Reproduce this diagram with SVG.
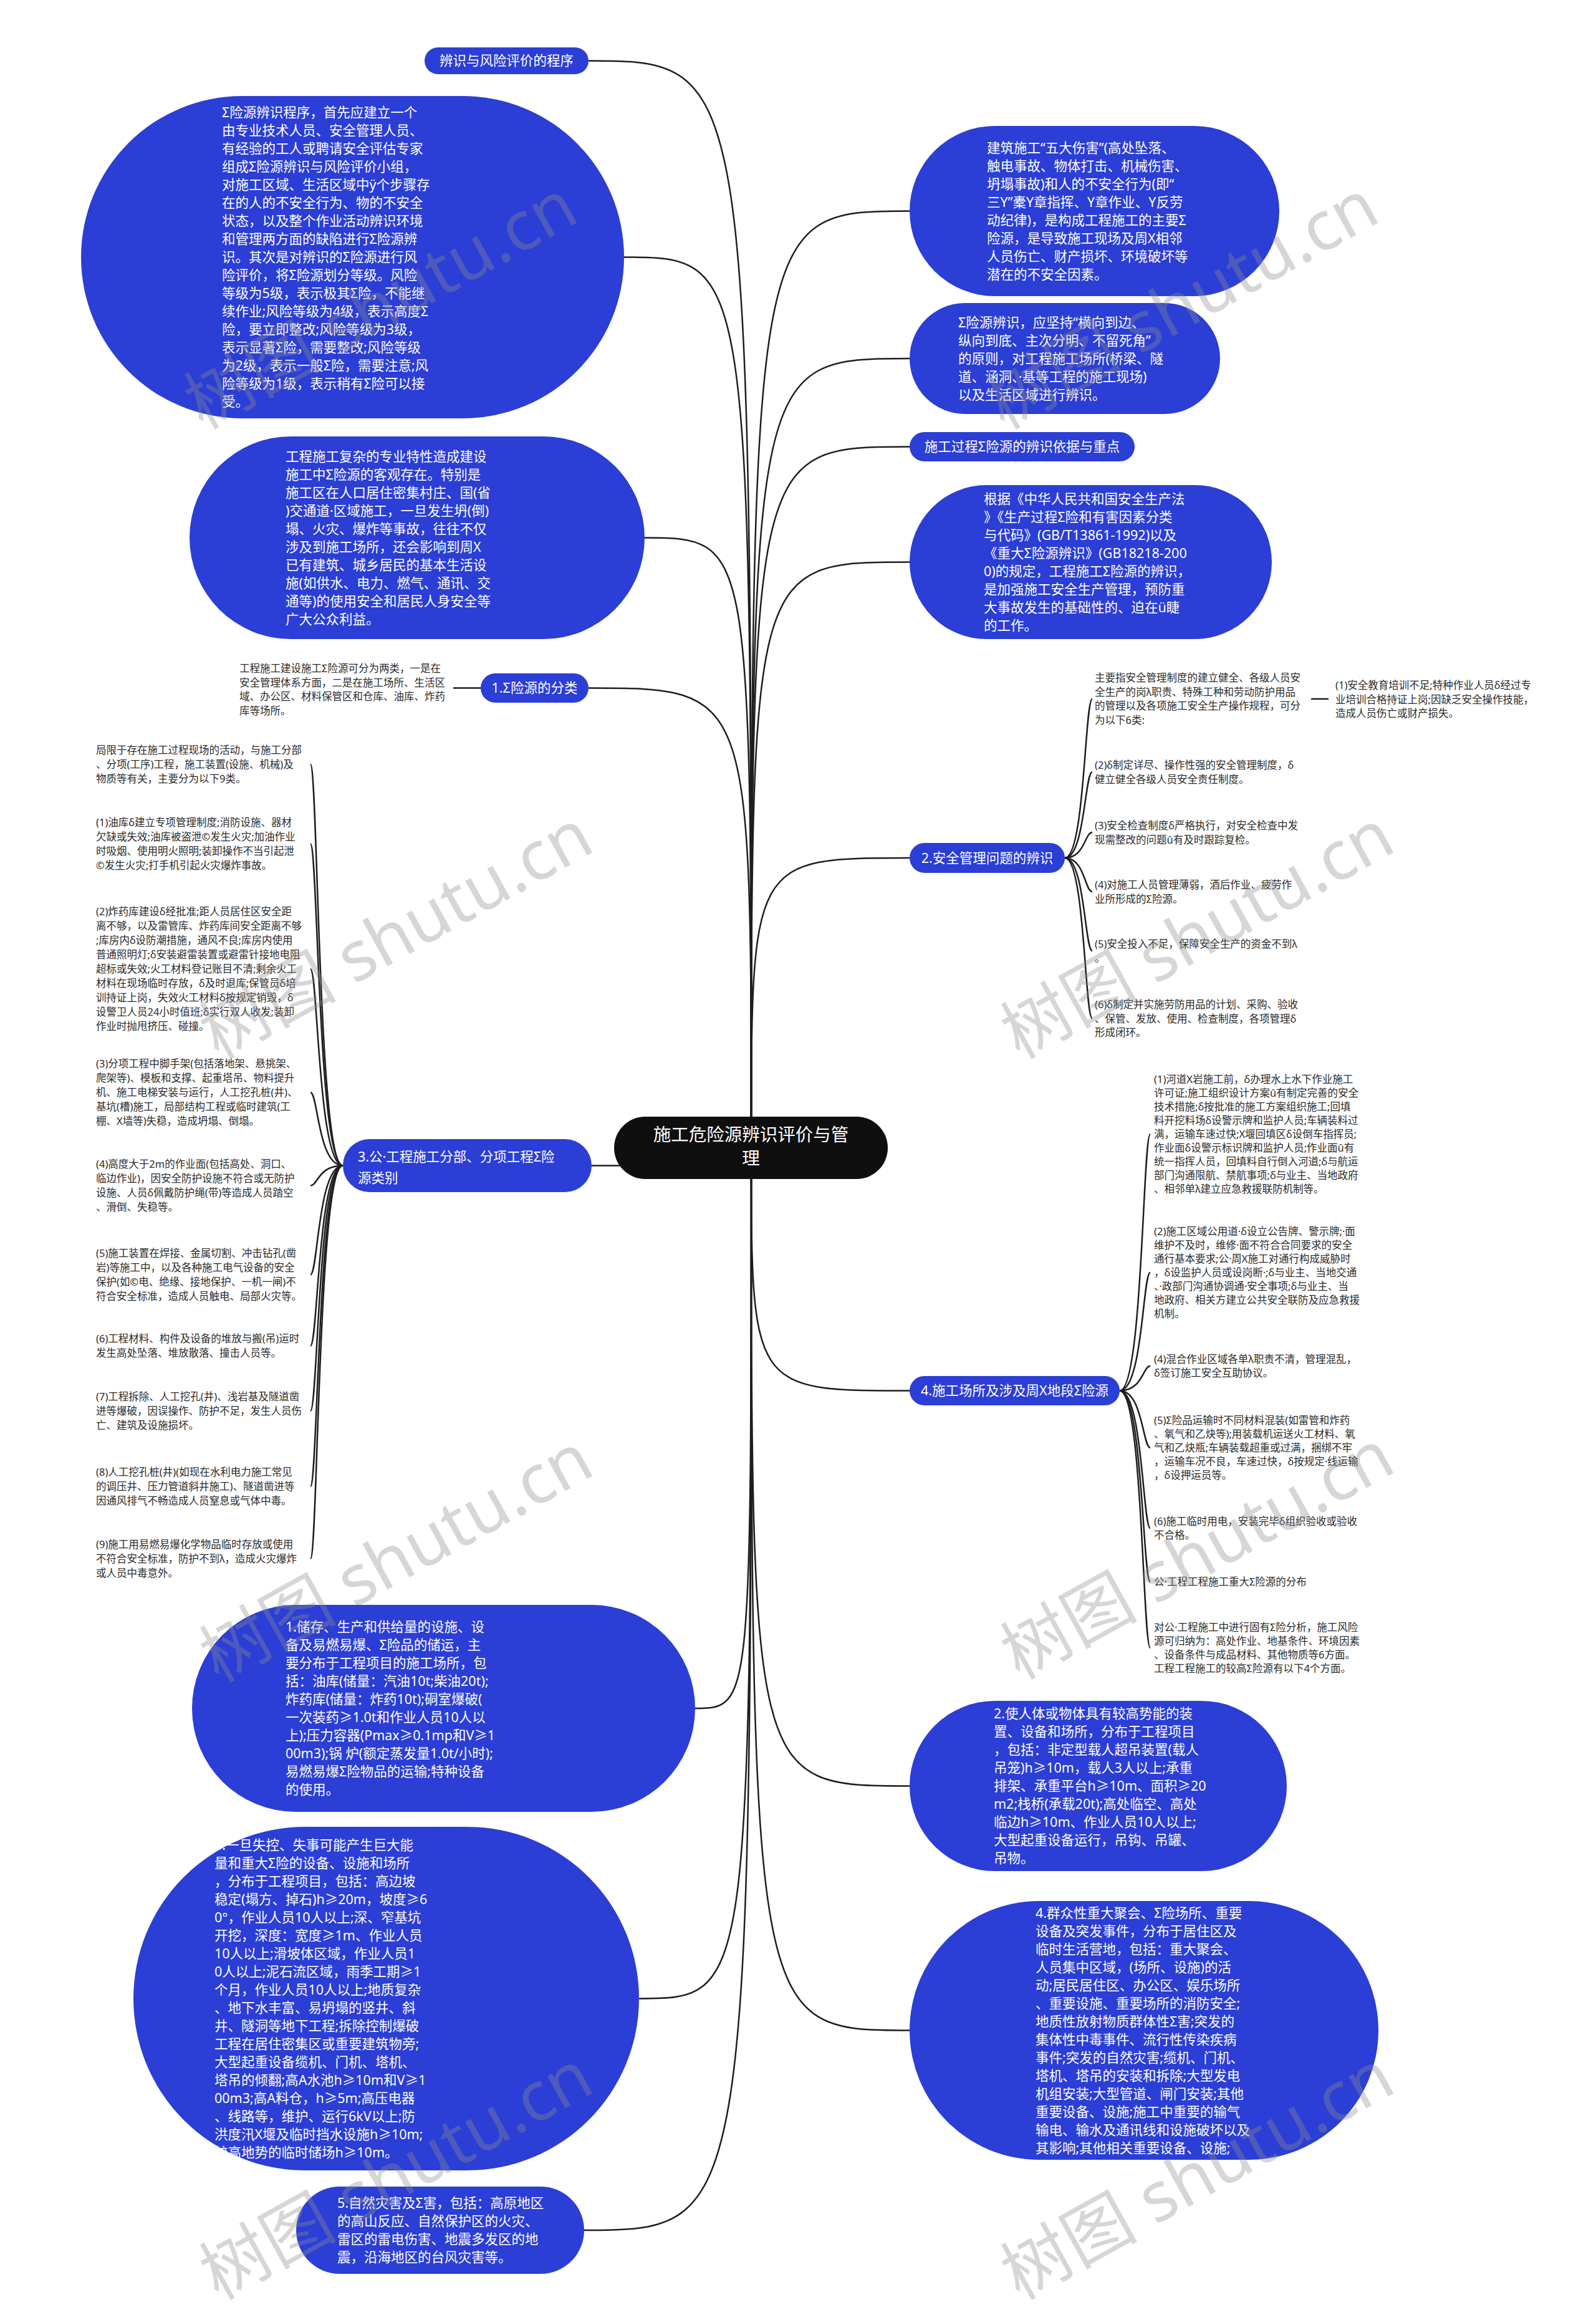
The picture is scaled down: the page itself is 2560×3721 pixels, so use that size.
<svg xmlns="http://www.w3.org/2000/svg" width="2560" height="3721" viewBox="0 0 2560 3721">
<style>
text{font-family:"Noto Sans","Noto Sans CJK SC",sans-serif;}
.nd{fill:#2B3ED6;}
.cn{fill:#0f0f0f;}
.w{fill:#fff;font-size:21.5px;}
.wc{fill:#fff;font-size:21.5px;text-anchor:middle;}
.c{fill:#fff;font-size:28.5px;text-anchor:middle;}
.s{fill:#2b2b2b;font-size:16.5px;}
.e{fill:none;stroke:#1e1e1e;stroke-width:2.5;}
.wm{fill:#8c8c8c;fill-opacity:0.36;font-family:"Liberation Serif","Noto Sans CJK SC",serif;font-size:110px;}
</style>
<rect width="2560" height="3721" fill="#fff"/>
<g id="connectors">
<path class="e" d="M1205 1841 C1205 338.5 1205 338.5 1459 338.5"/>
<path class="e" d="M1205 1841 C1205 575 1205 575 1459 575"/>
<path class="e" d="M1205 1841 C1205 716.5 1205 716.5 1459 716.5"/>
<path class="e" d="M1205 1841 C1205 901.5 1205 901.5 1459 901.5"/>
<path class="e" d="M1205 1841 C1205 1376 1205 1376 1459 1376"/>
<path class="e" d="M1205 1841 C1205 2230.5 1205 2230.5 1459 2230.5"/>
<path class="e" d="M1205 1841 C1205 2864.5 1205 2864.5 1459 2864.5"/>
<path class="e" d="M1205 1841 C1205 3256.5 1205 3256.5 1459 3256.5"/>
<path class="e" d="M1205 1841 C1205 97.5 1205 97.5 944 97.5"/>
<path class="e" d="M1205 1841 C1205 412.5 1205 412.5 1001 412.5"/>
<path class="e" d="M1205 1841 C1205 862.5 1205 862.5 1034 862.5"/>
<path class="e" d="M1205 1841 C1205 1103.5 1205 1103.5 944 1103.5"/>
<path class="e" d="M1205 1841 C1205 1869.5 1205 1869.5 949 1869.5"/>
<path class="e" d="M1205 1841 C1205 2740 1205 2740 1115 2740"/>
<path class="e" d="M1205 1841 C1205 3205.5 1205 3205.5 1025 3205.5"/>
<path class="e" d="M1205 1841 C1205 3577 1205 3577 937 3577"/>
<path class="e" d="M771 1103.5 L727 1103.5"/>
<path class="e" d="M550 1869.5 C510 1869.5 510 1226 498 1226"/>
<path class="e" d="M550 1869.5 C510 1869.5 510 1353.5 498 1353.5"/>
<path class="e" d="M550 1869.5 C510 1869.5 510 1554 498 1554"/>
<path class="e" d="M550 1869.5 C510 1869.5 510 1752 498 1752"/>
<path class="e" d="M550 1869.5 C510 1869.5 510 1901.5 498 1901.5"/>
<path class="e" d="M550 1869.5 C510 1869.5 510 2044.5 498 2044.5"/>
<path class="e" d="M550 1869.5 C510 1869.5 510 2158.5 498 2158.5"/>
<path class="e" d="M550 1869.5 C510 1869.5 510 2263 498 2263"/>
<path class="e" d="M550 1869.5 C510 1869.5 510 2384 498 2384"/>
<path class="e" d="M550 1869.5 C510 1869.5 510 2500 498 2500"/>
<path class="e" d="M1708 1376 C1740 1376 1740 1121 1752 1121"/>
<path class="e" d="M1708 1376 C1740 1376 1740 1238 1752 1238"/>
<path class="e" d="M1708 1376 C1740 1376 1740 1335 1752 1335"/>
<path class="e" d="M1708 1376 C1740 1376 1740 1430 1752 1430"/>
<path class="e" d="M1708 1376 C1740 1376 1740 1525 1752 1525"/>
<path class="e" d="M1708 1376 C1740 1376 1740 1633.5 1752 1633.5"/>
<path class="e" d="M2103 1121 L2131 1121"/>
<path class="e" d="M1796 2230.5 C1833 2230.5 1833 1819 1845 1819"/>
<path class="e" d="M1796 2230.5 C1833 2230.5 1833 2041 1845 2041"/>
<path class="e" d="M1796 2230.5 C1833 2230.5 1833 2191 1845 2191"/>
<path class="e" d="M1796 2230.5 C1833 2230.5 1833 2322 1845 2322"/>
<path class="e" d="M1796 2230.5 C1833 2230.5 1833 2451 1845 2451"/>
<path class="e" d="M1796 2230.5 C1833 2230.5 1833 2537 1845 2537"/>
<path class="e" d="M1796 2230.5 C1833 2230.5 1833 2643 1845 2643"/>
</g>
<g id="center">
<rect class="cn" x="985" y="1791" width="439" height="100" rx="50"/>
<text class="c" x="1204.5" y="1830"><tspan x="1204.5">施工危险源辨识评价与管</tspan><tspan x="1204.5" dy="38">理</tspan></text>
</g>
<g id="nA">
<rect class="nd" x="681" y="76" width="263" height="43" rx="21.5"/>
<text class="wc" x="812.5" y="105">辨识与风险评价的程序</text>
</g>
<g id="nB">
<rect class="nd" x="130" y="154" width="871" height="517" rx="258.5"/>
<text class="w" x="356" y="188"><tspan x="356">Σ险源辨识程序，首先应建立一个</tspan><tspan x="356" dy="29">由专业技术人员、安全管理人员、</tspan><tspan x="356" dy="29">有经验的工人或聘请安全评估专家</tspan><tspan x="356" dy="29">组成Σ险源辨识与风险评价小组，</tspan><tspan x="356" dy="29">对施工区域、生活区域中ÿ个步骤存</tspan><tspan x="356" dy="29">在的人的不安全行为、物的不安全</tspan><tspan x="356" dy="29">状态，以及整个作业活动辨识环境</tspan><tspan x="356" dy="29">和管理两方面的缺陷进行Σ险源辨</tspan><tspan x="356" dy="29">识。其次是对辨识的Σ险源进行风</tspan><tspan x="356" dy="29">险评价，将Σ险源划分等级。风险</tspan><tspan x="356" dy="29">等级为5级，表示极其Σ险，不能继</tspan><tspan x="356" dy="29">续作业;风险等级为4级，表示高度Σ</tspan><tspan x="356" dy="29">险，要立即整改;风险等级为3级，</tspan><tspan x="356" dy="29">表示显著Σ险，需要整改;风险等级</tspan><tspan x="356" dy="29">为2级，表示一般Σ险，需要注意;风</tspan><tspan x="356" dy="29">险等级为1级，表示稍有Σ险可以接</tspan><tspan x="356" dy="29">受。</tspan></text>
</g>
<g id="nC">
<rect class="nd" x="304" y="700" width="730" height="325" rx="162.5"/>
<text class="w" x="458" y="739.5"><tspan x="458">工程施工复杂的专业特性造成建设</tspan><tspan x="458" dy="29">施工中Σ险源的客观存在。特别是</tspan><tspan x="458" dy="29">施工区在人口居住密集村庄、国(省</tspan><tspan x="458" dy="29">)交通道·区域施工，一旦发生坍(倒)</tspan><tspan x="458" dy="29">塌、火灾、爆炸等事故，往往不仅</tspan><tspan x="458" dy="29">涉及到施工场所，还会影响到周X</tspan><tspan x="458" dy="29">已有建筑、城乡居民的基本生活设</tspan><tspan x="458" dy="29">施(如供水、电力、燃气、通讯、交</tspan><tspan x="458" dy="29">通等)的使用安全和居民人身安全等</tspan><tspan x="458" dy="29">广大公众利益。</tspan></text>
</g>
<g id="nD">
<rect class="nd" x="771" y="1080" width="173" height="47" rx="23.5"/>
<text class="wc" x="857.5" y="1111">1.Σ险源的分类</text>
<text class="s" x="384" y="1078"><tspan x="384">工程施工建设施工Σ险源可分为两类，一是在</tspan><tspan x="384" dy="22.5">安全管理体系方面，二是在施工场所、生活区</tspan><tspan x="384" dy="22.5">域、办公区、材料保管区和仓库、油库、炸药</tspan><tspan x="384" dy="22.5">库等场所。</tspan></text>
</g>
<g id="nE">
<rect class="nd" x="550" y="1827" width="399" height="85" rx="42.5"/>
<text class="w" x="574" y="1862.5"><tspan x="574">3.公·工程施工分部、分项工程Σ险</tspan><tspan x="574" dy="34">源类别</tspan></text>
</g>
<g id="nE-items">
<text class="s" x="154" y="1209"><tspan x="154">局限于存在施工过程现场的活动，与施工分部</tspan><tspan x="154" dy="23">、分项(工序)工程，施工装置(设施、机械)及</tspan><tspan x="154" dy="23">物质等有关，主要分为以下9类。</tspan></text>
<text class="s" x="154" y="1325"><tspan x="154">(1)油库δ建立专项管理制度;消防设施、器材</tspan><tspan x="154" dy="23">欠缺或失效;油库被盗泄©发生火灾;加油作业</tspan><tspan x="154" dy="23">时吸烟、使用明火照明;装卸操作不当引起泄</tspan><tspan x="154" dy="23">©发生火灾;打手机引起火灾爆炸事故。</tspan></text>
<text class="s" x="154" y="1468"><tspan x="154">(2)炸药库建设δ经批准;距人员居住区安全距</tspan><tspan x="154" dy="23">离不够，以及雷管库、炸药库间安全距离不够</tspan><tspan x="154" dy="23">;库房内δ设防潮措施，通风不良;库房内使用</tspan><tspan x="154" dy="23">普通照明灯;δ安装避雷装置或避雷针接地电阻</tspan><tspan x="154" dy="23">超标或失效;火工材料登记账目不清;剩余火工</tspan><tspan x="154" dy="23">材料在现场临时存放，δ及时退库;保管员δ培</tspan><tspan x="154" dy="23">训持证上岗，失效火工材料δ按规定销毁，δ</tspan><tspan x="154" dy="23">设警卫人员24小时值班;δ实行双人收发;装卸</tspan><tspan x="154" dy="23">作业时抛甩挤压、碰撞。</tspan></text>
<text class="s" x="154" y="1712"><tspan x="154">(3)分项工程中脚手架(包括落地架、悬挑架、</tspan><tspan x="154" dy="23">爬架等)、模板和支撑、起重塔吊、物料提升</tspan><tspan x="154" dy="23">机、施工电梯安装与运行，人工挖孔桩(井)、</tspan><tspan x="154" dy="23">基坑(槽)施工，局部结构工程或临时建筑(工</tspan><tspan x="154" dy="23">棚、X墙等)失稳，造成坍塌、倒塌。</tspan></text>
<text class="s" x="154" y="1873"><tspan x="154">(4)高度大于2m的作业面(包括高处、洞口、</tspan><tspan x="154" dy="23">临边作业)，因安全防护设施不符合或无防护</tspan><tspan x="154" dy="23">设施、人员δ佩戴防护绳(带)等造成人员踏空</tspan><tspan x="154" dy="23">、滑倒、失稳等。</tspan></text>
<text class="s" x="154" y="2016"><tspan x="154">(5)施工装置在焊接、金属切割、冲击钻孔(凿</tspan><tspan x="154" dy="23">岩)等施工中，以及各种施工电气设备的安全</tspan><tspan x="154" dy="23">保护(如©电、绝缘、接地保护、一机一闸)不</tspan><tspan x="154" dy="23">符合安全标准，造成人员触电、局部火灾等。</tspan></text>
<text class="s" x="154" y="2153"><tspan x="154">(6)工程材料、构件及设备的堆放与搬(吊)运时</tspan><tspan x="154" dy="23">发生高处坠落、堆放散落、撞击人员等。</tspan></text>
<text class="s" x="154" y="2246"><tspan x="154">(7)工程拆除、人工挖孔(井)、浅岩基及隧道凿</tspan><tspan x="154" dy="23">进等爆破，因误操作、防护不足，发生人员伤</tspan><tspan x="154" dy="23">亡、建筑及设施损坏。</tspan></text>
<text class="s" x="154" y="2367"><tspan x="154">(8)人工挖孔桩(井)(如现在水利电力施工常见</tspan><tspan x="154" dy="23">的调压井、压力管道斜井施工)、隧道凿进等</tspan><tspan x="154" dy="23">因通风排气不畅造成人员窒息或气体中毒。</tspan></text>
<text class="s" x="154" y="2483"><tspan x="154">(9)施工用易燃易爆化学物品临时存放或使用</tspan><tspan x="154" dy="23">不符合安全标准，防护不到λ，造成火灾爆炸</tspan><tspan x="154" dy="23">或人员中毒意外。</tspan></text>
</g>
<g id="nH">
<rect class="nd" x="1459" y="202" width="593" height="273" rx="136.5"/>
<text class="w" x="1583" y="244.5"><tspan x="1583">建筑施工“五大伤害”(高处坠落、</tspan><tspan x="1583" dy="29">触电事故、物体打击、机械伤害、</tspan><tspan x="1583" dy="29">坍塌事故)和人的不安全行为(即“</tspan><tspan x="1583" dy="29">三Y”橐Y章指挥、Y章作业、Y反劳</tspan><tspan x="1583" dy="29">动纪律)，是构成工程施工的主要Σ</tspan><tspan x="1583" dy="29">险源，是导致施工现场及周X相邻</tspan><tspan x="1583" dy="29">人员伤亡、财产损坏、环境破坏等</tspan><tspan x="1583" dy="29">潜在的不安全因素。</tspan></text>
</g>
<g id="nI">
<rect class="nd" x="1459" y="486" width="498" height="178" rx="89"/>
<text class="w" x="1537" y="524.5"><tspan x="1537">Σ险源辨识，应坚持“横向到边、</tspan><tspan x="1537" dy="29">纵向到底、主次分明、不留死角”</tspan><tspan x="1537" dy="29">的原则，对工程施工场所(桥梁、隧</tspan><tspan x="1537" dy="29">道、涵洞、·基等工程的施工现场)</tspan><tspan x="1537" dy="29">以及生活区域进行辨识。</tspan></text>
</g>
<g id="nJ">
<rect class="nd" x="1459" y="693" width="361" height="47" rx="23.5"/>
<text class="wc" x="1639.5" y="724">施工过程Σ险源的辨识依据与重点</text>
</g>
<g id="nK">
<rect class="nd" x="1459" y="778" width="581" height="247" rx="123.5"/>
<text class="w" x="1578" y="807.5"><tspan x="1578">根据《中华人民共和国安全生产法</tspan><tspan x="1578" dy="29">》《生产过程Σ险和有害因素分类</tspan><tspan x="1578" dy="29">与代码》(GB/T13861-1992)以及</tspan><tspan x="1578" dy="29">《重大Σ险源辨识》(GB18218-200</tspan><tspan x="1578" dy="29">0)的规定，工程施工Σ险源的辨识，</tspan><tspan x="1578" dy="29">是加强施工安全生产管理，预防重</tspan><tspan x="1578" dy="29">大事故发生的基础性的、迫在ü睫</tspan><tspan x="1578" dy="29">的工作。</tspan></text>
</g>
<g id="nF">
<rect class="nd" x="1459" y="1352" width="249" height="48" rx="24"/>
<text class="wc" x="1583.5" y="1383.5">2.安全管理问题的辨识</text>
</g>
<g id="nF-items">
<text class="s" x="1756" y="1093"><tspan x="1756">主要指安全管理制度的建立健全、各级人员安</tspan><tspan x="1756" dy="22.5">全生产的岗λ职责、特殊工种和劳动防护用品</tspan><tspan x="1756" dy="22.5">的管理以及各项施工安全生产操作规程，可分</tspan><tspan x="1756" dy="22.5">为以下6类:</tspan></text>
<text class="s" x="2142" y="1105"><tspan x="2142">(1)安全教育培训不足;特种作业人员δ经过专</tspan><tspan x="2142" dy="22.5">业培训合格持证上岗;因缺乏安全操作技能，</tspan><tspan x="2142" dy="22.5">造成人员伤亡或财产损失。</tspan></text>
<text class="s" x="1756" y="1233"><tspan x="1756">(2)δ制定详尽、操作性强的安全管理制度，δ</tspan><tspan x="1756" dy="22.5">健立健全各级人员安全责任制度。</tspan></text>
<text class="s" x="1756" y="1330"><tspan x="1756">(3)安全检查制度δ严格执行，对安全检查中发</tspan><tspan x="1756" dy="22.5">现需整改的问题û有及时跟踪复检。</tspan></text>
<text class="s" x="1756" y="1425"><tspan x="1756">(4)对施工人员管理薄弱，酒后作业、疲劳作</tspan><tspan x="1756" dy="22.5">业所形成的Σ险源。</tspan></text>
<text class="s" x="1756" y="1520"><tspan x="1756">(5)安全投入不足，保障安全生产的资金不到λ</tspan><tspan x="1756" dy="22.5">。</tspan></text>
<text class="s" x="1756" y="1617"><tspan x="1756">(6)δ制定并实施劳防用品的计划、采购、验收</tspan><tspan x="1756" dy="22.5">、保管、发放、使用、检查制度，各项管理δ</tspan><tspan x="1756" dy="22.5">形成闭环。</tspan></text>
</g>
<g id="nG">
<rect class="nd" x="1459" y="2207" width="337" height="47" rx="23.5"/>
<text class="wc" x="1627.5" y="2238">4.施工场所及涉及周X地段Σ险源</text>
</g>
<g id="nG-items">
<text class="s" x="1851" y="1737"><tspan x="1851">(1)河道X岩施工前，δ办理水上水下作业施工</tspan><tspan x="1851" dy="22">许可证;施工组织设计方案û有制定完善的安全</tspan><tspan x="1851" dy="22">技术措施;δ按批准的施工方案组织施工;回填</tspan><tspan x="1851" dy="22">料开挖料场δ设警示牌和监护人员;车辆装料过</tspan><tspan x="1851" dy="22">满，运输车速过快;X堰回填区δ设倒车指挥员;</tspan><tspan x="1851" dy="22">作业面δ设警示标识牌和监护人员;作业面û有</tspan><tspan x="1851" dy="22">统一指挥人员，回填料自行倒入河道;δ与航运</tspan><tspan x="1851" dy="22">部门沟通限航、禁航事项;δ与业主、当地政府</tspan><tspan x="1851" dy="22">、相邻单λ建立应急救援联防机制等。</tspan></text>
<text class="s" x="1851" y="1981"><tspan x="1851">(2)施工区域公用道·δ设立公告牌、警示牌;·面</tspan><tspan x="1851" dy="22">维护不及时，维修·面不符合合同要求的安全</tspan><tspan x="1851" dy="22">通行基本要求;公·周X施工对通行构成威胁时</tspan><tspan x="1851" dy="22">，δ设监护人员或设岗断·;δ与业主、当地交通</tspan><tspan x="1851" dy="22">、·政部门沟通协调通·安全事项;δ与业主、当</tspan><tspan x="1851" dy="22">地政府、相关方建立公共安全联防及应急救援</tspan><tspan x="1851" dy="22">机制。</tspan></text>
<text class="s" x="1851" y="2186"><tspan x="1851">(4)混合作业区域各单λ职责不清，管理混乱，</tspan><tspan x="1851" dy="22">δ签订施工安全互助协议。</tspan></text>
<text class="s" x="1851" y="2284"><tspan x="1851">(5)Σ险品运输时不同材料混装(如雷管和炸药</tspan><tspan x="1851" dy="22">、氧气和乙炔等);用装载机运送火工材料、氧</tspan><tspan x="1851" dy="22">气和乙炔瓶;车辆装载超重或过满，捆绑不牢</tspan><tspan x="1851" dy="22">，运输车况不良，车速过快，δ按规定·线运输</tspan><tspan x="1851" dy="22">，δ设押运员等。</tspan></text>
<text class="s" x="1851" y="2446"><tspan x="1851">(6)施工临时用电，安装完毕δ组织验收或验收</tspan><tspan x="1851" dy="22">不合格。</tspan></text>
<text class="s" x="1851" y="2543">公·工程工程施工重大Σ险源的分布</text>
<text class="s" x="1851" y="2616"><tspan x="1851">对公·工程施工中进行固有Σ险分析，施工风险</tspan><tspan x="1851" dy="22">源可归纳为：高处作业、地基条件、环境因素</tspan><tspan x="1851" dy="22">、设备条件与成品材料、其他物质等6方面。</tspan><tspan x="1851" dy="22">工程工程施工的较高Σ险源有以下4个方面。</tspan></text>
</g>
<g id="nN">
<rect class="nd" x="308" y="2574" width="807" height="332" rx="166"/>
<text class="w" x="458" y="2617"><tspan x="458">1.储存、生产和供给量的设施、设</tspan><tspan x="458" dy="29">备及易燃易爆、Σ险品的储运，主</tspan><tspan x="458" dy="29">要分布于工程项目的施工场所，包</tspan><tspan x="458" dy="29">括：油库(储量：汽油10t;柴油20t);</tspan><tspan x="458" dy="29">炸药库(储量：炸药10t);硐室爆破(</tspan><tspan x="458" dy="29">一次装药≥1.0t和作业人员10人以</tspan><tspan x="458" dy="29">上);压力容器(Pmax≥0.1mp和V≥1</tspan><tspan x="458" dy="29">00m3);锅 炉(额定蒸发量1.0t/小时);</tspan><tspan x="458" dy="29">易燃易爆Σ险物品的运输;特种设备</tspan><tspan x="458" dy="29">的使用。</tspan></text>
</g>
<g id="nL">
<rect class="nd" x="1459" y="2728" width="605" height="273" rx="136.5"/>
<text class="w" x="1594" y="2756"><tspan x="1594">2.使人体或物体具有较高势能的装</tspan><tspan x="1594" dy="29">置、设备和场所，分布于工程项目</tspan><tspan x="1594" dy="29">，包括：非定型载人超吊装置(载人</tspan><tspan x="1594" dy="29">吊笼)h≥10m，载人3人以上;承重</tspan><tspan x="1594" dy="29">排架、承重平台h≥10m、面积≥20</tspan><tspan x="1594" dy="29">m2;栈桥(承载20t);高处临空、高处</tspan><tspan x="1594" dy="29">临边h≥10m、作业人员10人以上;</tspan><tspan x="1594" dy="29">大型起重设备运行，吊钩、吊罐、</tspan><tspan x="1594" dy="29">吊物。</tspan></text>
</g>
<g id="nO">
<rect class="nd" x="214" y="2930" width="811" height="551" rx="275.5"/>
<text class="w" x="344" y="2966.5"><tspan x="344">3.一旦失控、失事可能产生巨大能</tspan><tspan x="344" dy="29">量和重大Σ险的设备、设施和场所</tspan><tspan x="344" dy="29">，分布于工程项目，包括：高边坡</tspan><tspan x="344" dy="29">稳定(塌方、掉石)h≥20m，坡度≥6</tspan><tspan x="344" dy="29">0°，作业人员10人以上;深、窄基坑</tspan><tspan x="344" dy="29">开挖，深度：宽度≥1m、作业人员</tspan><tspan x="344" dy="29">10人以上;滑坡体区域，作业人员1</tspan><tspan x="344" dy="29">0人以上;泥石流区域，雨季工期≥1</tspan><tspan x="344" dy="29">个月，作业人员10人以上;地质复杂</tspan><tspan x="344" dy="29">、地下水丰富、易坍塌的竖井、斜</tspan><tspan x="344" dy="29">井、隧洞等地下工程;拆除控制爆破</tspan><tspan x="344" dy="29">工程在居住密集区或重要建筑物旁;</tspan><tspan x="344" dy="29">大型起重设备缆机、门机、塔机、</tspan><tspan x="344" dy="29">塔吊的倾翻;高A水池h≥10m和V≥1</tspan><tspan x="344" dy="29">00m3;高A料仓，h≥5m;高压电器</tspan><tspan x="344" dy="29">、线路等，维护、运行6kV以上;防</tspan><tspan x="344" dy="29">洪度汛X堰及临时挡水设施h≥10m;</tspan><tspan x="344" dy="29">较高地势的临时储场h≥10m。</tspan></text>
</g>
<g id="nM">
<rect class="nd" x="1459" y="3049" width="752" height="415" rx="207.5"/>
<text class="w" x="1661" y="3075.5"><tspan x="1661">4.群众性重大聚会、Σ险场所、重要</tspan><tspan x="1661" dy="29">设备及突发事件，分布于居住区及</tspan><tspan x="1661" dy="29">临时生活营地，包括：重大聚会、</tspan><tspan x="1661" dy="29">人员集中区域，(场所、设施)的活</tspan><tspan x="1661" dy="29">动;居民居住区、办公区、娱乐场所</tspan><tspan x="1661" dy="29">、重要设施、重要场所的消防安全;</tspan><tspan x="1661" dy="29">地质性放射物质群体性Σ害;突发的</tspan><tspan x="1661" dy="29">集体性中毒事件、流行性传染疾病</tspan><tspan x="1661" dy="29">事件;突发的自然灾害;缆机、门机、</tspan><tspan x="1661" dy="29">塔机、塔吊的安装和拆除;大型发电</tspan><tspan x="1661" dy="29">机组安装;大型管道、闸门安装;其他</tspan><tspan x="1661" dy="29">重要设备、设施;施工中重要的输气</tspan><tspan x="1661" dy="29">输电、输水及通讯线和设施破坏以及</tspan><tspan x="1661" dy="29">其影响;其他相关重要设备、设施;</tspan></text>
</g>
<g id="nP">
<rect class="nd" x="475" y="3507" width="462" height="140" rx="70"/>
<text class="w" x="541" y="3541"><tspan x="541">5.自然灾害及Σ害，包括：高原地区</tspan><tspan x="541" dy="29">的高山反应、自然保护区的火灾、</tspan><tspan x="541" dy="29">雷区的雷电伤害、地震多发区的地</tspan><tspan x="541" dy="29">震，沿海地区的台风灾害等。</tspan></text>
</g>
<g id="watermarks" class="wm">
<text x="325" y="690" transform="rotate(-29 325 690)">树图 shutu.cn</text>
<text x="1610" y="690" transform="rotate(-29 1610 690)">树图 shutu.cn</text>
<text x="350" y="1700" transform="rotate(-29 350 1700)">树图 shutu.cn</text>
<text x="1635" y="1700" transform="rotate(-29 1635 1700)">树图 shutu.cn</text>
<text x="350" y="2700" transform="rotate(-29 350 2700)">树图 shutu.cn</text>
<text x="1635" y="2695" transform="rotate(-29 1635 2695)">树图 shutu.cn</text>
<text x="350" y="3690" transform="rotate(-29 350 3690)">树图 shutu.cn</text>
<text x="1635" y="3690" transform="rotate(-29 1635 3690)">树图 shutu.cn</text>
</g>
</svg>
